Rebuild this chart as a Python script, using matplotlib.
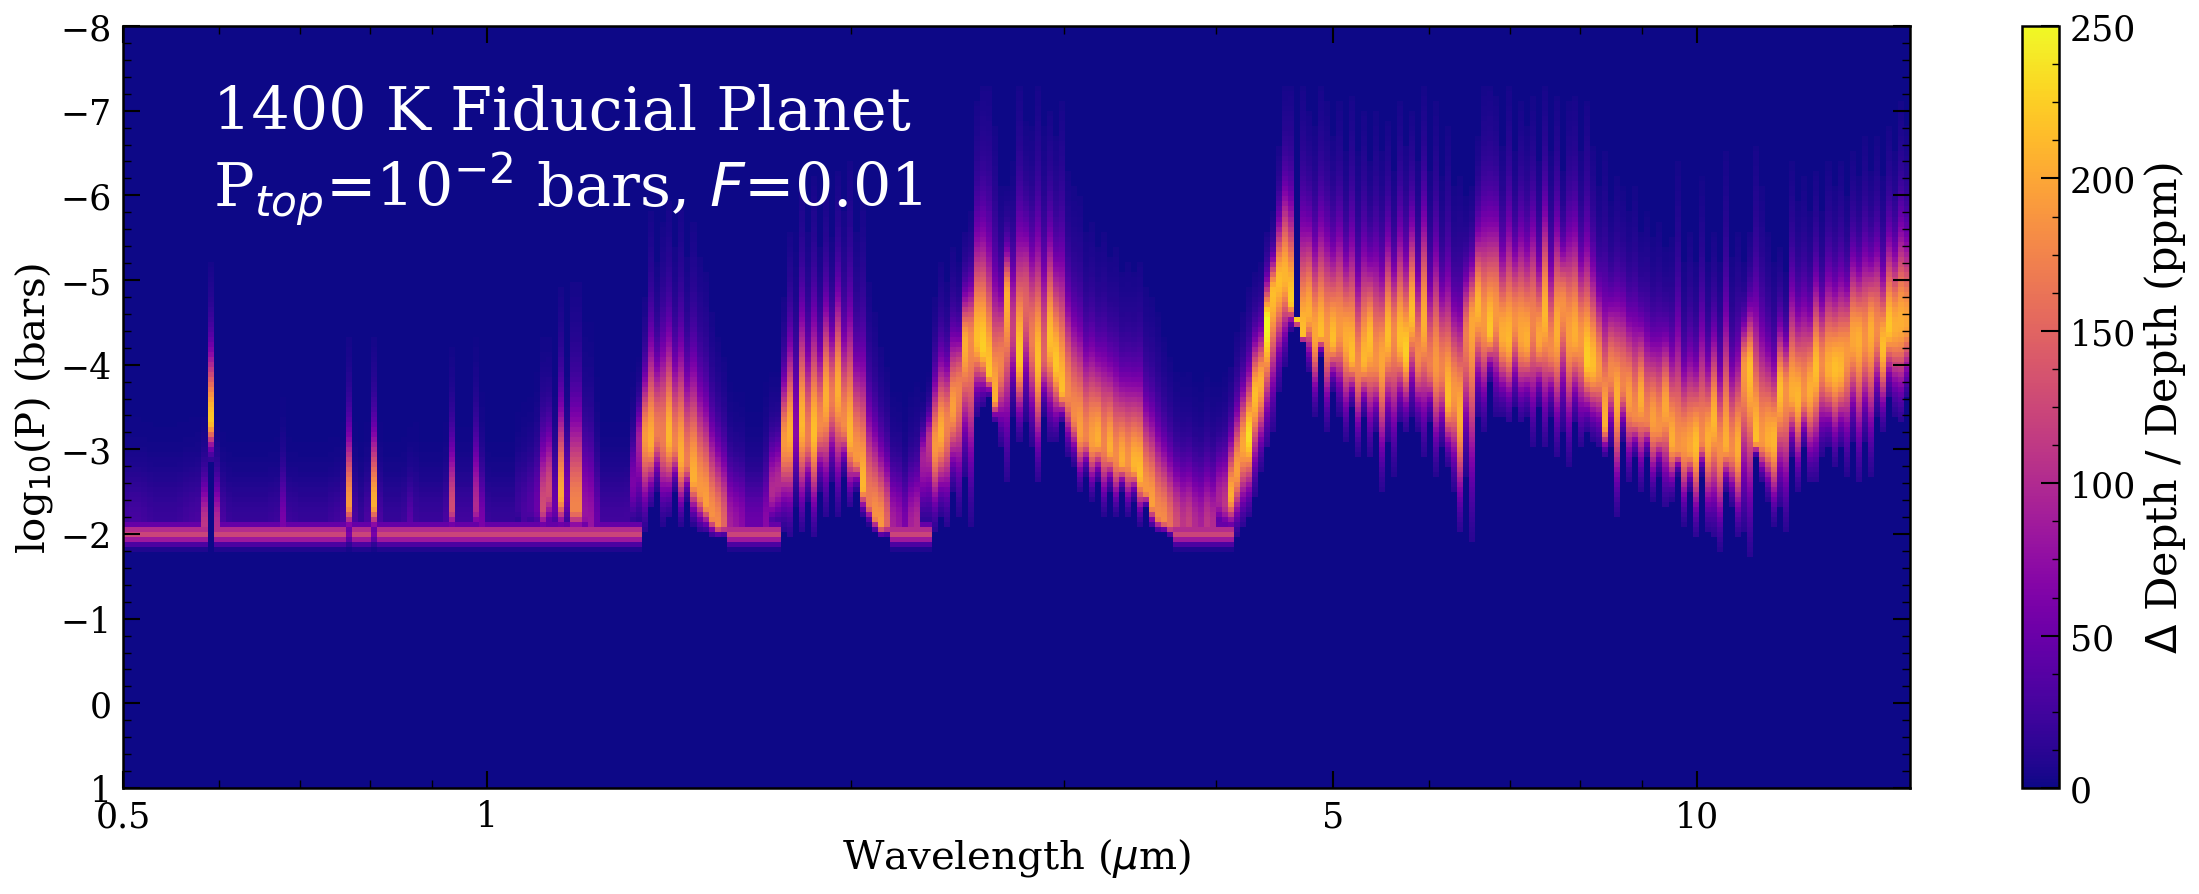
import numpy as np
import matplotlib
matplotlib.use('Agg')
import matplotlib.pyplot as plt
from matplotlib.ticker import FixedLocator, NullFormatter, MultipleLocator

plt.rcParams['font.family'] = 'DejaVu Serif'

# values, one entry per wavelength column (log-spaced from 0.5 to 15 um)
# ridge = log10(P) of the brightest layer, peak = ppm there,
# top / bottom = log10(P) where the colour fades out above / below the ridge
# deck = ppm of the flat cloud deck at log10(P) = -2
ridge = (
    [-2.1] * 14 + [-3.35] + [-2.1] * 22 + [-2.35, -2.1, -2.1, -2.1, -2.35] + [-2.1] * 12
    + [-2.3, -2.1, -2.1, -2.1, -2.3, -2.1, -2.1, -2.1, -2.1, -2.1, -2.1, -2.3, -2.2, -2.3]
    + [-2.3, -2.3, -2.5, -2.3, -2.45, -2.45, -2.3, -2.3, -2.2, -2.1, -2.1, -2.1, -2.1, -2.1, -2.1, -2.15]
    # band 1
    + [-2.6, -3.1, -3.15, -3.1, -3.2, -3.15, -3.15, -3.05, -2.9, -2.85]
    + [-2.65, -2.5, -2.35, -2.2]
    + [-2.1] * 9
    # band 2
    + [-2.5, -2.6, -3.1, -3.2, -3.2, -3.3, -3.15, -3.2, -3.3, -3.6]
    + [-3.6, -3.7, -3.3, -3.15, -2.9, -2.55, -2.35, -2.2]
    + [-2.1] * 7
    # band 3
    + [-2.9, -3.1, -3.05, -3.2, -3.3, -3.5, -3.7, -4.25, -4.3, -4.3]
    + [-4.2, -3.9, -3.6, -4.0, -4.8, -4.4, -4.1, -4.7, -4.3, -4.05]
    + [-4.1, -4.3, -4.0, -3.7, -3.65, -3.4, -3.2, -3.15, -3.1, -3.1]
    + [-3.05, -3.0, -2.9, -2.85, -2.85, -2.8, -2.7, -2.5, -2.35, -2.2]
    + [-2.15, -2.1, -2.1, -2.1, -2.1, -2.1, -2.1, -2.1, -2.1, -2.4]
    # band 4 and the long wavelength end
    + [-2.35, -2.45, -2.75, -3.05, -3.15, -3.65, -3.8, -4.5, -4.85, -5.0]
    + [-5.05, -4.75, -4.5, -4.35, -4.6, -4.35, -4.35, -4.35, -4.3, -4.4]
    + [-4.3, -4.1, -4.0, -4.05, -4.3, -4.05, -4.05, -4.35, -4.35, -4.3]
    + [-4.15, -4.6, -4.1, -4.5, -4.0, -4.0, -3.95, -3.6, -3.65, -3.4]
    + [-4.35, -4.5, -4.7, -4.5, -4.4, -4.6, -4.35, -4.3, -4.5, -4.35]
    + [-4.3, -4.5, -4.3, -4.6, -4.2, -4.4, -4.7, -4.35, -4.35, -4.3]
    + [-4.05, -4.0, -3.95, -3.3, -3.9, -3.6, -3.75, -3.6, -3.4, -3.6]
    + [-3.35, -3.35, -3.25, -3.5, -3.1, -3.0, -3.05, -3.0, -3.05, -3.1]
    + [-3.1, -3.35, -3.0, -3.05, -3.0, -3.0, -3.95, -3.95, -3.1, -3.1]
    + [-3.1, -3.1, -3.7, -3.7, -3.65, -3.6, -3.65, -3.7, -3.95, -4.0]
    + [-3.95, -3.95, -3.95, -4.15, -4.3, -4.3, -4.3, -4.4, -4.4, -4.2]
    + [-4.45, -4.45, -4.5, -4.5]
)
peak = (
    [25, 28, 28, 25, 22, 20, 20, 20, 20, 22, 25, 28, 30, 110, 220, 100, 30, 20, 18, 18]
    + [18, 18, 18, 18, 20, 22, 60, 22, 20, 18, 18, 18, 18, 18, 22, 25, 30, 190, 30, 18]
    + [30, 205, 30, 18, 18, 18, 22, 40, 22, 20, 20, 20, 20, 30, 130, 25, 25, 25, 100, 60]
    + [20, 18, 18, 18, 18, 22, 30, 35, 50, 130, 130, 50, 200, 60, 175, 175, 80, 80, 50, 25]
    + [25, 25, 25, 25, 60, 90]
    + [190, 205, 170, 170, 210, 175, 205, 170, 205, 190]
    + [195, 185, 180, 150]
    + [90, 80, 70, 50, 50, 50, 70, 100, 100]
    + [190, 205, 70, 210, 170, 215, 180, 205, 170, 205]
    + [180, 210, 190, 210, 170, 185, 190, 150]
    + [90, 80, 60, 90, 100, 90, 110]
    + [190, 205, 175, 195, 175, 205, 180, 215, 225, 220]
    + [205, 175, 205, 120, 220, 150, 170, 215, 150, 215]
    + [220, 215, 180, 180, 195, 175, 195, 205, 175, 205]
    + [180, 205, 185, 210, 215, 190, 195, 180, 180, 160]
    + [130, 110, 120, 100, 90, 110, 100, 95, 110, 205]
    + [195, 200, 235, 215, 205, 250, 215, 215, 210, 225]
    + [225, 215, 205, 200, 215, 190, 215, 190, 205, 215]
    + [180, 210, 215, 185, 200, 215, 180, 215, 225, 215]
    + [180, 205, 170, 190, 175, 215, 190, 205, 170, 200]
    + [210, 190, 220, 190, 205, 210, 185, 200, 205, 175]
    + [200, 210, 180, 205, 185, 195, 205, 190, 225, 215]
    + [190, 205, 180, 205, 175, 195, 180, 205, 175, 195]
    + [185, 200, 205, 185, 190, 200, 215, 180, 205, 210]
    + [185, 205, 180, 205, 190, 215, 215, 190, 205, 210]
    + [215, 185, 205, 210, 185, 205, 215, 180, 205, 215]
    + [210, 190, 200, 205, 185, 205, 180, 215, 220, 205]
    + [205, 200, 215, 190]
)
top = (
    [-3.6] * 13 + [-3.4, -5.2, -3.4] + [-3.4] * 10 + [-3.6] + [-3.4] * 9 + [-3.5, -4.3, -3.5, -3.4]
    + [-3.5, -4.3, -3.5] + [-3.4] * 5 + [-3.6, -3.4, -3.4, -3.4, -3.4, -3.5, -4.2, -3.5, -3.5, -3.5, -4.3, -3.7]
    + [-3.4, -3.4, -3.4, -3.4, -3.4, -3.7, -3.8, -3.8, -4.0, -4.3, -4.3, -3.9, -4.9, -4.1, -5.0, -5.0, -4.5, -4.5, -3.9, -3.6]
    + [-3.6, -3.6, -3.6, -3.6, -3.9, -4.1]
    + [-4.8, -5.8, -5.2, -5.7, -5.9, -5.4, -5.9, -5.3, -5.7, -5.3]
    + [-5.1, -4.6, -4.3, -4.1]
    + [-3.8, -3.7, -3.7, -3.5, -3.5, -3.5, -3.8, -3.9, -3.9]
    + [-4.8, -5.6, -5.6, -6.2, -5.6, -6.2, -5.4, -6.1, -5.5, -6.3]
    + [-5.8, -6.4, -5.6, -5.9, -5.0, -4.6, -4.2, -4.0]
    + [-3.7, -3.7, -3.5, -3.7, -3.8, -3.7, -3.9]
    + [-4.8, -5.2, -5.0, -5.4, -5.2, -5.6, -5.8, -7.1, -7.3, -7.3]
    + [-6.8, -6.1, -6.1, -6.4, -7.3, -6.9, -6.8, -7.3, -6.8, -7.0]
    + [-6.7, -7.1, -6.3, -6.1, -6.0, -5.6, -5.7, -5.4, -5.6, -5.3]
    + [-5.4, -5.1, -5.2, -5.1, -5.2, -4.9, -4.8, -4.6, -4.3, -4.1]
    + [-3.9, -3.9, -3.9, -3.8, -3.8, -3.9, -3.8, -3.8, -3.9, -4.0]
    + [-4.4, -4.6, -4.9, -5.1, -5.2, -5.6, -5.8, -6.6, -7.3, -7.3]
    + [-7.3, -7.3, -7.0, -6.8, -7.3, -7.1, -6.7, -7.1, -6.5, -7.2]
    + [-6.5, -7.0, -6.4, -7.0, -6.5, -6.9, -6.3, -7.1, -6.6, -7.0]
    + [-6.4, -7.3, -6.3, -7.1, -6.2, -6.8, -6.1, -6.2, -6.0, -6.1]
    + [-6.7, -7.3, -7.3, -7.2, -6.6, -7.3, -6.5, -7.1, -6.8, -7.2]
    + [-6.4, -7.3, -6.5, -7.2, -6.3, -7.1, -7.2, -6.5, -7.1, -6.6]
    + [-6.1, -6.5, -5.9, -6.2, -6.1, -5.8, -6.1, -5.6, -5.8, -5.5]
    + [-5.7, -5.4, -5.5, -6.4, -5.2, -5.6, -5.2, -6.2, -5.2, -5.6]
    + [-5.2, -6.5, -5.3, -5.6, -5.2, -5.6, -6.6, -6.1, -5.6, -5.2]
    + [-5.4, -5.1, -6.4, -5.9, -6.2, -5.8, -6.3, -5.8, -6.4, -6.1]
    + [-6.4, -6.0, -6.5, -6.2, -6.7, -6.3, -6.7, -6.2, -6.8, -6.5]
    + [-7.1, -6.8, -7.2, -6.8]
)
bottom = (
    [-1.95] * 14 + [-2.85] + [-1.95] * 71
    + [-2.0, -2.3, -2.5, -2.1, -2.2, -2.5, -2.1, -2.4, -2.1, -2.0]
    + [-2.0, -1.95, -1.95, -1.95]
    + [-1.95] * 9
    + [-2.0, -1.95, -2.3, -2.0, -2.4, -1.95, -2.5, -2.2, -2.6, -2.2]
    + [-2.7, -2.3, -2.5, -2.2, -2.1, -2.0, -1.95, -1.95]
    + [-1.95] * 7
    + [-2.0, -2.2, -2.05, -2.5, -2.2, -2.7, -2.1, -3.4, -3.5, -3.6]
    + [-3.3, -3.0, -2.6, -3.4, -3.1, -3.3, -3.0, -2.6, -3.4, -3.1]
    + [-3.1, -3.3, -2.9, -2.8, -2.5, -2.7, -2.4, -2.6, -2.2, -2.5]
    + [-2.2, -2.5, -2.2, -2.4, -2.1, -2.3, -2.05, -2.0, -2.0, -1.95]
    + [-1.95] * 10
    + [-1.95, -2.05, -2.2, -2.45, -2.75, -3.0, -3.2, -3.7, -4.0, -4.4]
    + [-4.55, -4.25, -3.9, -3.4, -4.1, -3.2, -3.7, -3.4, -3.1, -3.5]
    + [-2.9, -3.4, -2.9, -3.2, -2.5, -3.1, -2.7, -3.3, -3.2, -3.4]
    + [-3.2, -2.9, -3.3, -2.7, -3.0, -2.8, -2.5, -2.0, -2.7, -1.9]
    + [-3.4, -3.2, -3.8, -3.4, -3.4, -3.3, -3.5, -3.3, -3.4, -3.0]
    + [-3.5, -3.0, -3.4, -2.9, -3.2, -2.8, -3.3, -3.0, -3.2, -3.1]
    + [-3.0, -2.9, -3.0, -2.2, -3.1, -2.6, -2.9, -2.5, -2.9, -2.4]
    + [-2.7, -2.3, -2.4, -2.7, -2.1, -2.5, -1.95, -2.7, -2.0, -1.95]
    + [-1.8, -2.5, -2.3, -1.95, -2.0, -1.75, -2.9, -2.6, -2.4, -2.1]
    + [-2.3, -2.0, -2.9, -2.5, -3.0, -2.6, -2.6, -2.9, -3.0, -2.8]
    + [-3.0, -2.7, -3.1, -2.6, -3.1, -2.7, -3.4, -3.2, -3.6, -3.4]
    + [-3.3, -3.6, -3.7, -3.6]
)
deck = (
    [125] * 14 + [0] + [125] * 22 + [60] + [125] * 3 + [60] + [125] * 44
    + [0] * 14 + [125] * 9 + [0] * 18 + [125] * 7 + [0] * 40 + [125] * 10 + [0] * 114
)
xticks_major = [0.5, 1, 5, 10]
xticks_minor = [0.6, 0.7, 0.8, 0.9, 2, 3, 4, 6, 7, 8, 9]
xtick_labels = ['0.5', '1', '5', '10']
cbar_ticks = [0, 50, 100, 150, 200, 250]

n_rows = 152
x_edges = np.geomspace(0.5, 15, len(ridge) + 1)
y_edges = np.linspace(-8, 1, n_rows + 1)
y_mid = 0.5 * (y_edges[:-1] + y_edges[1:])

# each column: a lobe around the ridge plus the thin deck at -2
# the upper side has a bright core and a faint tail
Z = np.zeros((n_rows, len(ridge)))
for i in range(len(ridge)):
    up = (ridge[i] - y_mid) / (ridge[i] - top[i])
    down = (y_mid - ridge[i]) / (bottom[i] - ridge[i])
    upper = 0.8 * np.exp(-(2.8 * up) ** 2) + 0.2 * np.exp(-(1.6 * up) ** 2)
    lobe = np.where(y_mid < ridge[i], upper, np.exp(-(1.7 * down) ** 2))
    lobe[(up > 1) | (down > 1)] = 0
    layer = deck[i] * np.exp(-((y_mid + 2.0) / 0.11) ** 2)
    Z[:, i] = np.maximum(peak[i] * lobe, layer)

fig = plt.figure(figsize=(21.99, 8.95), dpi=100)
ax = fig.add_axes([123 / 2199, 1 - 789 / 895, 1787 / 2199, 762 / 895])
cax = fig.add_axes([2022 / 2199, 1 - 789 / 895, 37 / 2199, 762 / 895])

mesh = ax.pcolormesh(x_edges, y_edges, Z, cmap='plasma', vmin=0, vmax=250, shading='flat')
ax.set_xscale('log')
ax.set_xlim(0.5, 15)
ax.set_ylim(1, -8)
ax.xaxis.set_major_locator(FixedLocator(xticks_major))
ax.xaxis.set_minor_locator(FixedLocator(xticks_minor))
ax.set_xticklabels(xtick_labels)
ax.xaxis.set_minor_formatter(NullFormatter())
ax.yaxis.set_major_locator(MultipleLocator(1))
ax.yaxis.set_minor_locator(MultipleLocator(0.2))
ax.tick_params(which='major', direction='in', top=True, right=True, length=12, width=1.5, labelsize=25, pad=8)
ax.tick_params(which='minor', direction='in', top=True, right=True, length=6, width=1)
ax.set_xlabel(r'Wavelength ($\mu$m)', fontsize=29, labelpad=2)
ax.set_ylabel(r'log$_{10}$(P) (bars)', fontsize=29, labelpad=4)
for s in ax.spines.values():
    s.set_linewidth(1.8)

ax.text(0.0505, 0.865, '1400 K Fiducial Planet', transform=ax.transAxes, color='white', fontsize=43.5)
ax.text(0.0505, 0.762, r'P$_{top}$=10$^{-2}$ bars, $F$=0.01', transform=ax.transAxes, color='white', fontsize=43.5)

cb = fig.colorbar(mesh, cax=cax)
cb.set_ticks(cbar_ticks)
cb.ax.yaxis.set_minor_locator(MultipleLocator(12.5))
cb.ax.tick_params(which='major', direction='in', length=13, width=1.5, labelsize=25, pad=8)
cb.ax.tick_params(which='minor', direction='in', length=5, width=1)
cb.outline.set_linewidth(1.8)
cb.set_label(r'$\Delta$ Depth / Depth (ppm)', fontsize=31, labelpad=4)

fig.savefig('out.png', dpi=100)
